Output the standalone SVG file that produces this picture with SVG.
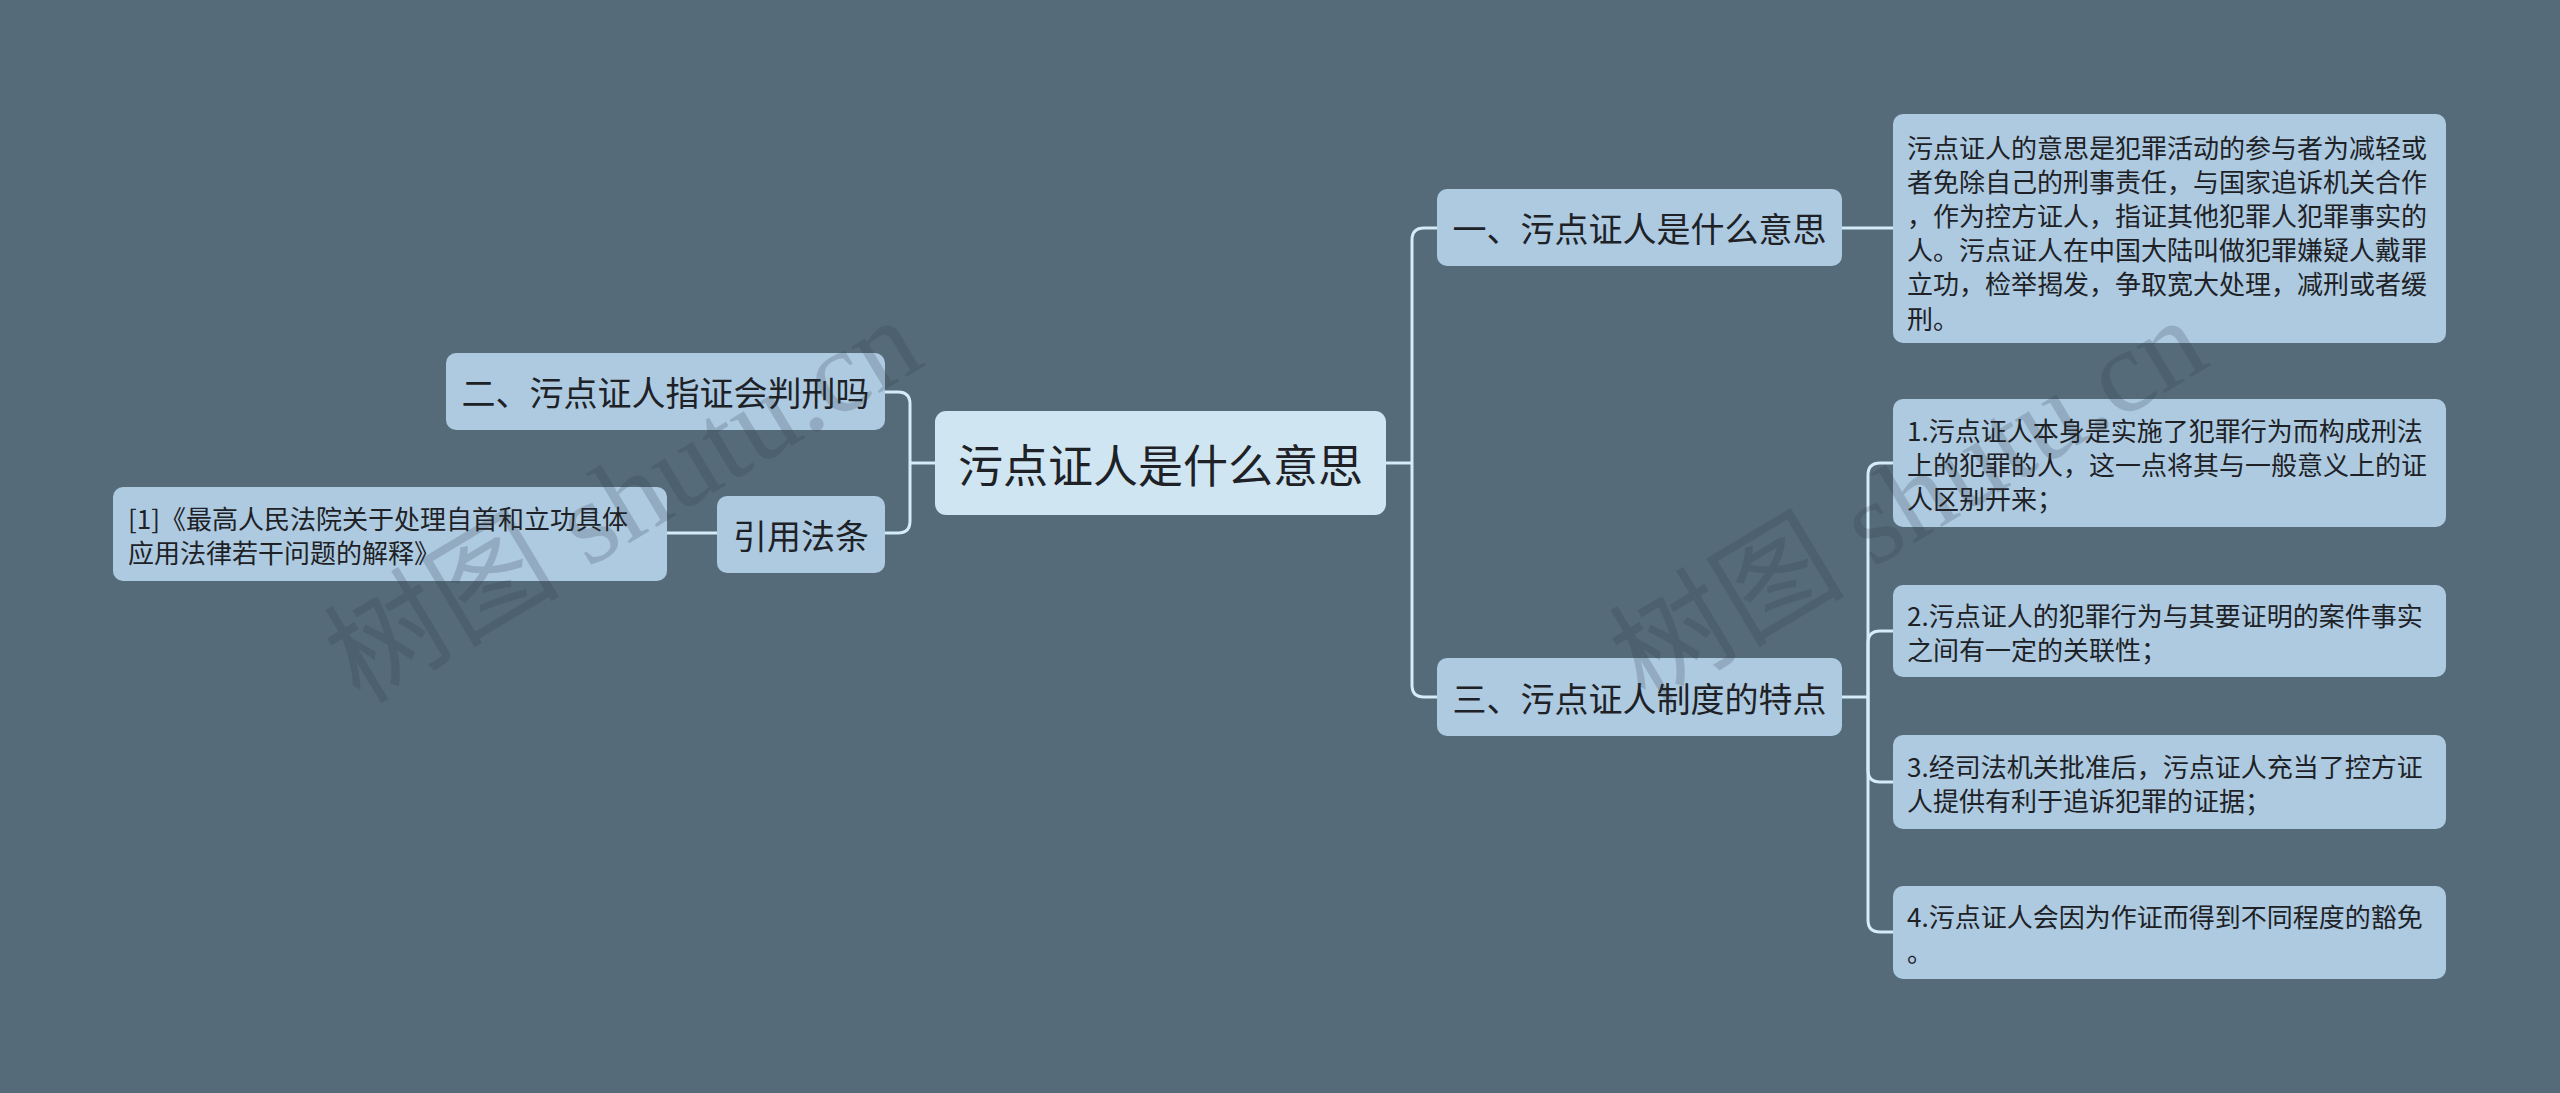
<svg xmlns="http://www.w3.org/2000/svg" width="2560" height="1093" viewBox="0 0 2560 1093">
<style>
.bg{fill:#556b7a}
.n{fill:#adcae1}
.root{fill:#cfe5f2}
.t{font-family:"Noto Sans CJK SC","Noto Sans",sans-serif;fill:#1e2226;dominant-baseline:central}
.t1{font-size:34px}
.t0{font-size:45px}
.t2{font-size:26px}
.c{fill:none;stroke:#d4ebf8;stroke-width:3}
.wm{font-family:"Liberation Serif","Noto Sans CJK SC",serif;font-size:118px;fill:#2a3640;opacity:0.2}
</style>
<rect class="bg" x="0" y="0" width="2560" height="1093"/>
<g id="connectors">
<path class="c" d="M935,463 H910"/>
<path class="c" d="M910,463 V404 Q910,392 898,392 H885"/>
<path class="c" d="M910,463 V521 Q910,533 898,533 H885"/>
<path class="c" d="M717,533 H667"/>
<path class="c" d="M1386,463 H1412"/>
<path class="c" d="M1412,463 V240 Q1412,228 1424,228 H1437"/>
<path class="c" d="M1412,463 V685 Q1412,697 1424,697 H1437"/>
<path class="c" d="M1842,228 H1893"/>
<path class="c" d="M1842,697 H1868"/>
<path class="c" d="M1868,697 V475 Q1868,463 1880,463 H1893"/>
<path class="c" d="M1868,697 V643 Q1868,631 1880,631 H1893"/>
<path class="c" d="M1868,697 V770 Q1868,782 1880,782 H1893"/>
<path class="c" d="M1868,697 V920 Q1868,932 1880,932 H1893"/>
</g>
<g id="root">
<rect class="root" x="935" y="411" width="451" height="104" rx="11"/>
<text class="t t0" x="1160.5" y="463" text-anchor="middle">污点证人是什么意思</text>
</g>
<g id="n2">
<rect class="n" x="446" y="353" width="439" height="77" rx="10"/>
<text class="t t1" x="665.5" y="391.5" text-anchor="middle">二、污点证人指证会判刑吗</text>
</g>
<g id="ref">
<rect class="n" x="717" y="496" width="168" height="77" rx="10"/>
<text class="t t1" x="801" y="534.5" text-anchor="middle">引用法条</text>
</g>
<g id="ref1">
<rect class="n" x="113" y="487" width="554" height="94" rx="10"/>
<text class="t t2" x="128" y="517">[1]《最高人民法院关于处理自首和立功具体</text>
<text class="t t2" x="128" y="551">应用法律若干问题的解释》</text>
</g>
<g id="n1">
<rect class="n" x="1437" y="189" width="405" height="77" rx="10"/>
<text class="t t1" x="1639.5" y="227.5" text-anchor="middle">一、污点证人是什么意思</text>
</g>
<g id="n3">
<rect class="n" x="1437" y="658" width="405" height="78" rx="10"/>
<text class="t t1" x="1639.5" y="697" text-anchor="middle">三、污点证人制度的特点</text>
</g>
<g id="n1a">
<rect class="n" x="1893" y="114" width="553" height="229" rx="10"/>
<text class="t t2" x="1907" y="146">污点证人的意思是犯罪活动的参与者为减轻或</text>
<text class="t t2" x="1907" y="180.2">者免除自己的刑事责任，与国家追诉机关合作</text>
<text class="t t2" x="1907" y="214.4">，作为控方证人，指证其他犯罪人犯罪事实的</text>
<text class="t t2" x="1907" y="248.6">人。污点证人在中国大陆叫做犯罪嫌疑人戴罪</text>
<text class="t t2" x="1907" y="282.8">立功，检举揭发，争取宽大处理，减刑或者缓</text>
<text class="t t2" x="1907" y="317">刑。</text>
</g>
<g id="n3a">
<rect class="n" x="1893" y="399" width="553" height="128" rx="10"/>
<text class="t t2" x="1907" y="429">1.污点证人本身是实施了犯罪行为而构成刑法</text>
<text class="t t2" x="1907" y="463">上的犯罪的人，这一点将其与一般意义上的证</text>
<text class="t t2" x="1907" y="497">人区别开来；</text>
</g>
<g id="n3b">
<rect class="n" x="1893" y="585" width="553" height="92" rx="10"/>
<text class="t t2" x="1907" y="614">2.污点证人的犯罪行为与其要证明的案件事实</text>
<text class="t t2" x="1907" y="648">之间有一定的关联性；</text>
</g>
<g id="n3c">
<rect class="n" x="1893" y="735" width="553" height="94" rx="10"/>
<text class="t t2" x="1907" y="765">3.经司法机关批准后，污点证人充当了控方证</text>
<text class="t t2" x="1907" y="799">人提供有利于追诉犯罪的证据；</text>
</g>
<g id="n3d">
<rect class="n" x="1893" y="886" width="553" height="93" rx="10"/>
<text class="t t2" x="1907" y="915">4.污点证人会因为作证而得到不同程度的豁免</text>
<text class="t t2" x="1907" y="950">。</text>
</g>
<g id="watermark">
<text class="wm" transform="translate(360,705) rotate(-31)">树图 shutu.cn</text>
<text class="wm" transform="translate(1645,705) rotate(-31)">树图 shutu.cn</text>
</g>
</svg>
